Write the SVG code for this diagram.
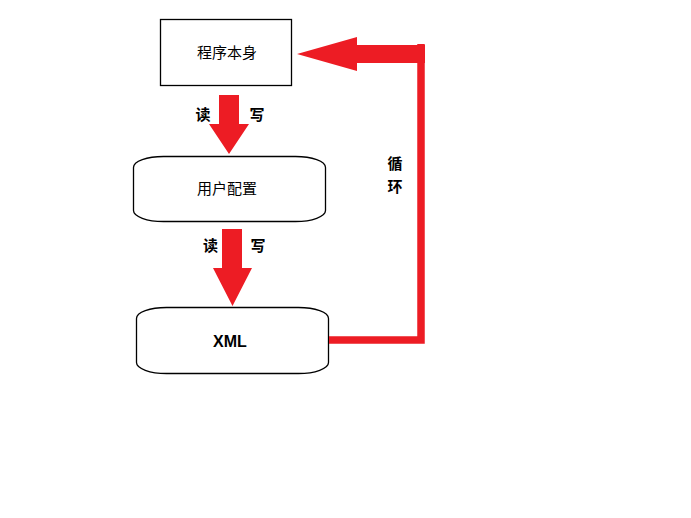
<svg xmlns="http://www.w3.org/2000/svg" width="691" height="518" viewBox="0 0 691 518">
<style>
.box{fill:#fff;stroke:#000;stroke-width:1.3}
.lbl{font-family:"Noto Sans CJK SC","Liberation Sans",sans-serif;font-size:15px;fill:#000;text-anchor:middle;dominant-baseline:central}
.bold{font-family:"Noto Sans CJK SC","Liberation Sans",sans-serif;font-size:15px;font-weight:bold;fill:#000;text-anchor:middle;dominant-baseline:central}
.red{fill:#ed1c24}
</style>
<rect width="691" height="518" fill="#fff"/>
<g id="node-program">
<rect class="box" x="160.5" y="19.5" width="131" height="66"/>
<text class="lbl" x="227" y="51">程序本身</text>
</g>
<g id="node-userconfig">
<rect class="box" x="133.5" y="156.5" width="192" height="65" rx="30" ry="11"/>
<text class="lbl" x="227" y="187">用户配置</text>
</g>
<g id="node-xml">
<rect class="box" x="136.5" y="307.5" width="192" height="66" rx="30" ry="11"/>
<text x="230" y="341" font-family="Liberation Sans,Arial,sans-serif" font-size="16" font-weight="bold" text-anchor="middle" dominant-baseline="central">XML</text>
</g>
<g id="connectors">
<polygon class="red" points="219,95 239,95 239,124 249,124 229,154 209,124 219,124"/>
<polygon class="red" points="222,229 242,229 242,268 252,268 232.5,306 213,268 222,268"/>
<path d="M329,340 H421 V44" fill="none" stroke="#ed1c24" stroke-width="7.5"/>
<polygon class="red" points="425,45 425,63 357,63 357,71 297,54 357,37 357,45"/>
<text class="bold" x="203" y="113">读</text>
<text class="bold" x="257" y="113">写</text>
<text class="bold" x="210.5" y="244">读</text>
<text class="bold" x="258" y="244">写</text>
<text class="bold" x="395" y="162">循</text>
<text class="bold" x="395" y="185">环</text>
</g>
</svg>
